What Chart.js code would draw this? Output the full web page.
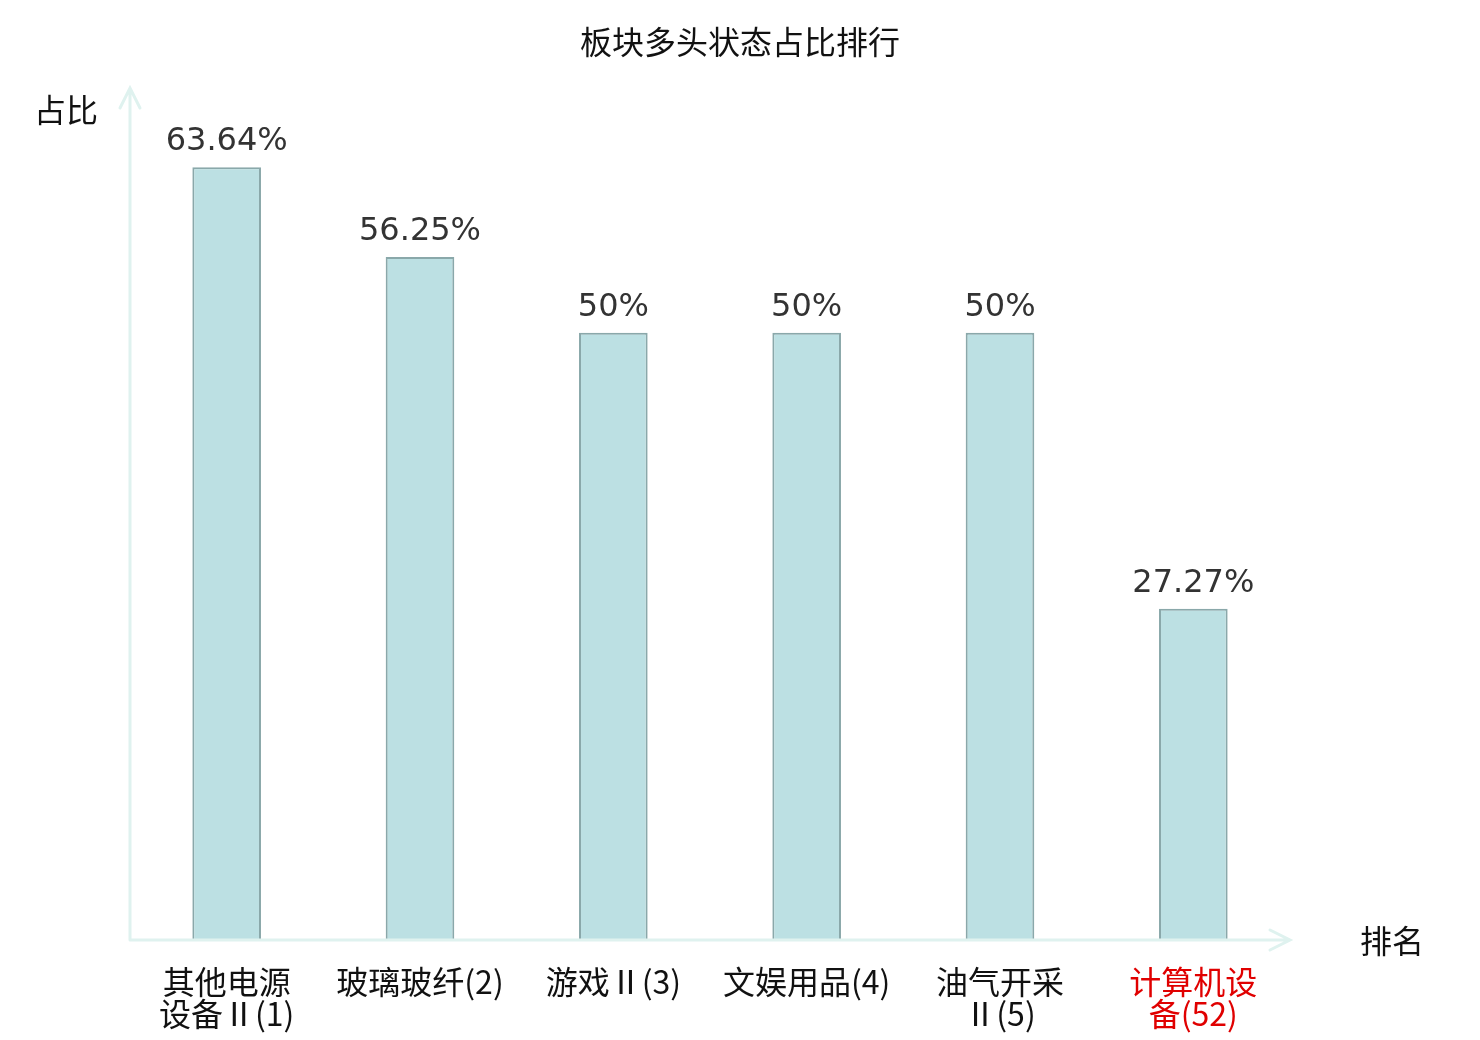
<!DOCTYPE html>
<html>
<head>
<meta charset="utf-8">
<script src="https://cdn.jsdelivr.net/npm/chart.js@4"></script>
<style>
  body { margin: 0; background: #fff; }
</style>
</head>
<body>
<canvas id="chart" width="1480" height="1040"></canvas>
<script>
const categories = [
  ["其他电源", "设备Ⅱ(1)"],
  ["玻璃玻纤(2)"],
  ["游戏Ⅱ(3)"],
  ["文娱用品(4)"],
  ["油气开采", "Ⅱ(5)"],
  ["计算机设", "备(52)"],
];
const ratios = [63.64, 56.25, 50, 50, 50, 27.27];
const valueLabels = ["63.64%", "56.25%", "50%", "50%", "50%", "27.27%"];
const tickColors = ["#111", "#111", "#111", "#111", "#111", "#e00000"];

const CJK = '"Noto Sans CJK SC", "Noto Sans", sans-serif';
const TICK_FONT = '"DejaVu Sans ExtraLight", "Noto Sans CJK SC", sans-serif';
const AXIS = "#dff2ef";

// title, axis lines with arrowheads, axis titles and value labels
const decorations = {
  id: "decorations",
  afterDatasetsDraw(chart) {
    const { ctx, chartArea: a } = chart;
    ctx.save();
    ctx.strokeStyle = AXIS;
    ctx.lineWidth = 3;
    ctx.lineCap = "round";
    ctx.beginPath();
    ctx.moveTo(a.left, a.bottom);
    ctx.lineTo(a.left, a.top - 2);
    ctx.moveTo(a.left, a.bottom);
    ctx.lineTo(a.right, a.bottom);
    // arrow heads
    ctx.moveTo(a.left - 10, a.top + 18);
    ctx.lineTo(a.left, a.top - 2);
    ctx.lineTo(a.left + 10, a.top + 18);
    ctx.moveTo(a.right - 20, a.bottom - 10);
    ctx.lineTo(a.right, a.bottom);
    ctx.lineTo(a.right - 20, a.bottom + 10);
    ctx.stroke();

    ctx.fillStyle = "#111";
    ctx.textBaseline = "middle";
    ctx.textAlign = "center";
    ctx.font = "32px " + CJK;
    ctx.fillText("板块多头状态占比排行", chart.width / 2, 42);
    ctx.textAlign = "left";
    ctx.fillText("占比", 34, 110);
    ctx.fillText("排名", 1360, 941);

    ctx.fillStyle = "#333";
    ctx.font = '32px "DejaVu Sans", sans-serif';
    ctx.textAlign = "center";
    ctx.textBaseline = "alphabetic";
    chart.getDatasetMeta(0).data.forEach((bar, i) => {
      ctx.fillText(valueLabels[i], bar.x, bar.y - 17);
    });
    ctx.restore();
  },
};

new Chart(document.getElementById("chart"), {
  type: "bar",
  data: {
    labels: categories,
    datasets: [
      {
        label: "占比",
        data: ratios,
        backgroundColor: "#bce0e3",
        borderColor: "#8aa8aa",
        borderWidth: 2,
        categoryPercentage: 1,
        barPercentage: 0.355,
      },
    ],
  },
  options: {
    responsive: false,
    animation: false,
    layout: { padding: { left: 130, right: 190, top: 90, bottom: 0 } },
    plugins: {
      legend: { display: false },
      tooltip: { enabled: false },
    },
    scales: {
      y: {
        display: false,
        min: 0,
        max: 70,
      },
      x: {
        grid: { display: false, drawTicks: false },
        border: { display: false },
        ticks: {
          color: (c) => tickColors[c.index],
          font: { family: TICK_FONT, size: 32, lineHeight: 1.0 },
          padding: 26,
          maxRotation: 0,
          autoSkip: false,
        },
        afterFit(scale) {
          scale.height = 100;
        },
      },
    },
  },
  plugins: [decorations],
});
</script>
</body>
</html>
